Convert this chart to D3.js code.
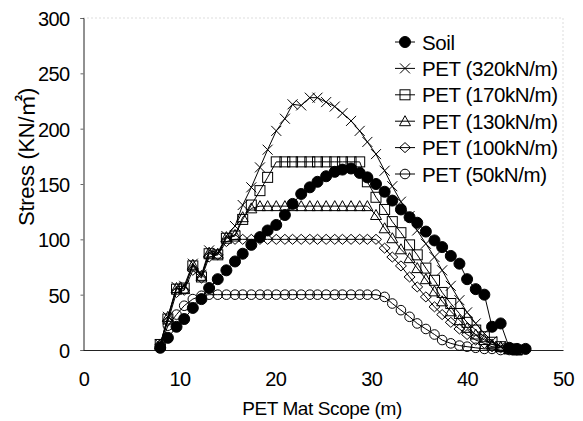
<!DOCTYPE html>
<html><head><meta charset="utf-8">
<script src="https://cdn.jsdelivr.net/npm/d3@7/dist/d3.min.js"></script>
<style>
html,body{margin:0;padding:0;background:#fff;}
svg text{font-family:"Liberation Sans",Arial,"Noto Sans CJK KR",sans-serif;fill:#000;}
</style></head>
<body><svg id="c" width="583" height="421"></svg>
<script>
// ---- data ----
const xValues = [8.0, 8.8, 9.7, 10.5, 11.4, 12.3, 13.1, 14.0, 14.9, 15.8, 16.6, 17.5, 18.4, 19.2, 20.1,
  21.0, 21.8, 22.7, 23.6, 24.4, 25.3, 26.2, 27.0, 27.9, 28.8, 29.6, 30.5, 31.4, 32.2, 33.1,
  34.0, 34.8, 35.7, 36.6, 37.4, 38.3, 39.2, 40.0, 40.9, 41.8, 42.6, 43.5, 44.4, 45.2, 46.1];
const soil = [2, 11, 21, 28, 38, 46, 56, 64, 72, 80, 87, 95, 102, 108, 113,
  122, 132, 141, 147, 152, 157, 161, 163, 164, 160, 156, 150, 143, 135, 127,
  120, 115, 107, 99, 93, 85, 78, 64, 55, 50, 21, 24, 2, 1, 1];
const pet320 = [5, 30, 57, 58, 78, 68, 90, 88, 103, 112, 131, 147, 165, 181, 198,
  209, 222, 221, 228, 228, 224, 220, 214, 207, 198, 188, 177, 162, 148, 134,
  121, 108, 96, 84, 72, 58, 45, 34, 24, 15, 8, 3, 1, 0];
const pet170 = [5, 28, 55, 56, 76, 66, 87, 86, 101, 103, 118, 131, 144, 156, 170,
  170, 170, 170, 170, 170, 170, 170, 170, 170, 170, 152, 138, 127, 116, 106,
  95, 86, 74, 63, 52, 42, 33, 25, 18, 12, 7, 3, 1, 0];
const pet130 = [5, 30, 56, 55, 77, 67, 88, 87, 102, 104, 120, 128, 130, 130, 130,
  130, 130, 130, 130, 130, 130, 130, 130, 130, 130, 130, 122, 110, 101, 91,
  83, 74, 64, 53, 44, 35, 27, 20, 14, 9, 5, 3, 1, 0];
const pet100 = [5, 26, 52, 54, 72, 65, 84, 86, 98, 100, 100, 100, 100, 100, 100,
  100, 100, 100, 100, 100, 100, 100, 100, 100, 100, 100, 100, 92, 84, 76,
  66, 57, 48, 39, 32, 25, 19, 14, 9, 6, 3, 2, 1, 0];
const pet50 = [3, 22, 32, 40, 46, 49, 50, 50, 50, 50, 50, 50, 50, 50, 50,
  50, 50, 50, 50, 50, 50, 50, 50, 50, 50, 50, 50, 48, 42, 36,
  30, 24, 19, 14, 9, 6, 4, 3, 2, 1, 1, 0, 0, 0];
const seriesNames = ["Soil", "PET (320kN/m)", "PET (170kN/m)", "PET (130kN/m)", "PET (100kN/m)", "PET (50kN/m)"];
const seriesMarkers = ["dot", "x", "square", "triangle", "diamond", "circle"];
const xTicks = [0, 10, 20, 30, 40, 50];
const yTicks = [0, 50, 100, 150, 200, 250, 300];

// ---- layout ----
const svg = d3.select("#c");
const x = d3.scaleLinear().domain([0, 50]).range([83.5, 563]);
const y = d3.scaleLinear().domain([0, 300]).range([350, 18]);

// plot border (faint dotted top/right)
svg.append("path").attr("d", `M${x(0)},${y(300)}H${x(50)}V${y(0)}`)
  .attr("fill", "none").attr("stroke", "#bbb").attr("stroke-width", 1).attr("stroke-dasharray", "1,3");

// axes
const xAxis = svg.append("g").attr("transform", `translate(0,${y(0)})`)
  .call(d3.axisBottom(x).tickValues(xTicks).tickSize(0).tickPadding(22).tickFormat(d3.format("d")));
const yAxis = svg.append("g").attr("transform", `translate(${x(0)},0)`)
  .call(d3.axisLeft(y).tickValues(yTicks).tickSize(3).tickPadding(11).tickFormat(d3.format("d")));
[xAxis, yAxis].forEach(g => {
  g.select(".domain").attr("stroke", "#222").attr("stroke-width", 1);
  g.selectAll(".tick line").attr("stroke", "#666");
  g.selectAll("text").attr("font-size", 20).attr("letter-spacing", "-0.6px")
    .attr("font-family", "'Liberation Sans',Arial,sans-serif").attr("fill", "#000");
});
yAxis.selectAll("text").attr("dy", "0.38em");

svg.append("text").attr("x", 322).attr("y", 415).attr("text-anchor", "middle")
  .attr("font-size", 19).attr("letter-spacing", "-0.4px").text("PET Mat Scope (m)");
svg.append("text").attr("transform", "translate(34,157) rotate(-90)").attr("text-anchor", "middle")
  .attr("font-size", 22).attr("letter-spacing", "-0.3px").text("Stress (KN/㎡)");

// markers
function drawMarker(g, type) {
  if (type === "dot") {
    g.append("circle").attr("r", 5.5).attr("fill", "#000").attr("stroke", "#000");
  } else if (type === "circle") {
    g.append("circle").attr("r", 4.8).attr("fill", "none").attr("stroke", "#000").attr("stroke-width", 1);
  } else if (type === "square") {
    g.append("rect").attr("x", -5).attr("y", -5).attr("width", 10).attr("height", 10)
      .attr("fill", "none").attr("stroke", "#000").attr("stroke-width", 1);
  } else if (type === "triangle") {
    g.append("path").attr("d", "M0,-5.5L5.5,4.5L-5.5,4.5Z").attr("fill", "none").attr("stroke", "#000").attr("stroke-width", 1);
  } else if (type === "diamond") {
    g.append("path").attr("d", "M0,-5L5.5,0L0,5L-5.5,0Z").attr("fill", "none").attr("stroke", "#000").attr("stroke-width", 1);
  } else if (type === "x") {
    g.append("path").attr("d", "M-5,-5L5,5M-5,5L5,-5").attr("fill", "none").attr("stroke", "#000").attr("stroke-width", 1);
  }
}

const seriesData = [soil, pet320, pet170, pet130, pet100, pet50];
const line = d3.line().x(d => x(d[0])).y(d => y(d[1]));
const drawOrder = [5, 4, 3, 2, 1, 0];
drawOrder.forEach(si => {
  const pts = seriesData[si].map((v, i) => [xValues[i], v]);
  const g = svg.append("g");
  g.append("path").attr("d", line(pts)).attr("fill", "none").attr("stroke", "#000").attr("stroke-width", 1);
  pts.forEach(p => {
    const m = g.append("g").attr("transform", `translate(${x(p[0])},${y(p[1])})`);
    drawMarker(m, seriesMarkers[si]);
  });
});

// legend
const lg = svg.append("g");
seriesNames.forEach((name, i) => {
  const cy = 42 + i * 26.4;
  lg.append("line").attr("x1", 395).attr("x2", 415).attr("y1", cy).attr("y2", cy).attr("stroke", "#000");
  const m = lg.append("g").attr("transform", `translate(405,${cy})`);
  drawMarker(m, seriesMarkers[i]);
  lg.append("text").attr("x", 422).attr("y", cy + 7.5).attr("font-size", 20.5).attr("letter-spacing", "-0.4px").text(name);
});
</script></body></html>
